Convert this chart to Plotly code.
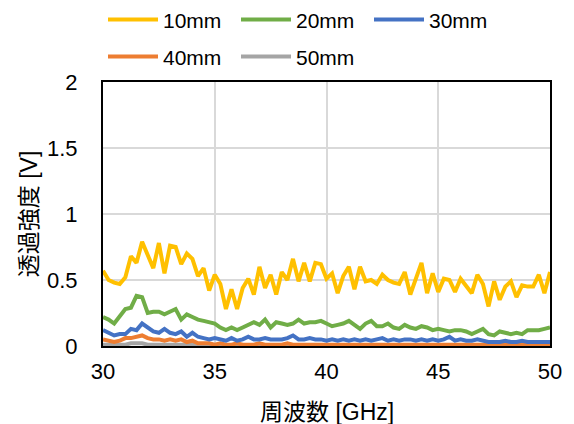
import plotly.graph_objects as go

freq = [30 + 0.25 * i for i in range(81)]

s10mm = [0.57, 0.50, 0.48, 0.47, 0.52, 0.68, 0.63, 0.79, 0.69, 0.59,
         0.78, 0.55, 0.76, 0.75, 0.62, 0.70, 0.66, 0.53, 0.59, 0.42,
         0.54, 0.47, 0.28, 0.43, 0.28, 0.44, 0.51, 0.39, 0.60, 0.44,
         0.54, 0.39, 0.56, 0.50, 0.66, 0.49, 0.63, 0.49, 0.63, 0.62,
         0.51, 0.55, 0.40, 0.53, 0.60, 0.43, 0.60, 0.49, 0.50, 0.47,
         0.54, 0.50, 0.48, 0.47, 0.56, 0.39, 0.51, 0.63, 0.40, 0.55,
         0.41, 0.51, 0.50, 0.41, 0.51, 0.46, 0.40, 0.54, 0.47, 0.30,
         0.49, 0.35, 0.45, 0.49, 0.37, 0.46, 0.45, 0.45, 0.54, 0.40,
         0.56]

s20mm = [0.22, 0.20, 0.17, 0.22, 0.28, 0.29, 0.38, 0.37, 0.25, 0.26,
         0.26, 0.24, 0.26, 0.28, 0.20, 0.24, 0.22, 0.20, 0.19, 0.18,
         0.17, 0.14, 0.12, 0.14, 0.12, 0.14, 0.16, 0.18, 0.16, 0.20,
         0.14, 0.18, 0.17, 0.16, 0.17, 0.20, 0.17, 0.18, 0.18, 0.19,
         0.17, 0.15, 0.16, 0.17, 0.19, 0.16, 0.13, 0.17, 0.19, 0.15,
         0.15, 0.17, 0.14, 0.13, 0.16, 0.14, 0.13, 0.15, 0.14, 0.12,
         0.13, 0.12, 0.11, 0.12, 0.12, 0.11, 0.09, 0.11, 0.13, 0.09,
         0.08, 0.11, 0.10, 0.09, 0.10, 0.09, 0.12, 0.12, 0.12, 0.13,
         0.14]

s30mm = [0.12, 0.10, 0.08, 0.09, 0.09, 0.13, 0.12, 0.17, 0.14, 0.11,
         0.10, 0.13, 0.10, 0.09, 0.11, 0.07, 0.10, 0.07, 0.06, 0.05,
         0.06, 0.05, 0.04, 0.06, 0.04, 0.05, 0.07, 0.05, 0.05, 0.06,
         0.05, 0.05, 0.05, 0.06, 0.08, 0.05, 0.05, 0.06, 0.05, 0.05,
         0.04, 0.05, 0.04, 0.05, 0.04, 0.05, 0.04, 0.05, 0.04, 0.05,
         0.06, 0.04, 0.05, 0.04, 0.05, 0.05, 0.04, 0.05, 0.04, 0.05,
         0.04, 0.05, 0.07, 0.04, 0.05, 0.04, 0.04, 0.05, 0.04, 0.03,
         0.03, 0.03, 0.04, 0.03, 0.03, 0.04, 0.03, 0.03, 0.03, 0.03,
         0.03]

s40mm = [0.05, 0.04, 0.03, 0.04, 0.06, 0.06, 0.07, 0.08, 0.06, 0.05,
         0.05, 0.04, 0.05, 0.04, 0.05, 0.03, 0.04, 0.02, 0.02, 0.02,
         0.01, 0.02, 0.01, 0.01, 0.02, 0.01, 0.01, 0.01, 0.02, 0.01,
         0.01, 0.01, 0.01, 0.02, 0.01, 0.01, 0.01, 0.01, 0.01, 0.01,
         0.01, 0.01, 0.01, 0.01, 0.01, 0.01, 0.01, 0.01, 0.01, 0.01,
         0.01, 0.01, 0.01, 0.01, 0.01, 0.01, 0.01, 0.01, 0.01, 0.01,
         0.01, 0.01, 0.01, 0.01, 0.01, 0.01, 0.01, 0.01, 0.01, 0.01,
         0.01, 0.01, 0.01, 0.01, 0.01, 0.01, 0.01, 0.01, 0.01, 0.01,
         0.01]

s50mm = [0.01, 0.01, 0.01, 0.01, 0.01, 0.02, 0.02, 0.02, 0.01, 0.01,
         0.01, 0.01, 0.01, 0.01, 0.01, 0.01, 0.01, 0.00, 0.00, 0.00,
         0.00, 0.00, 0.00, 0.00, 0.00, 0.00, 0.00, 0.00, 0.00, 0.00,
         0.00, 0.00, 0.00, 0.00, 0.00, 0.00, 0.00, 0.00, 0.00, 0.00,
         0.00, 0.00, 0.00, 0.00, 0.00, 0.00, 0.00, 0.00, 0.00, 0.00,
         0.00, 0.00, 0.00, 0.00, 0.00, 0.00, 0.00, 0.00, 0.00, 0.00,
         0.00, 0.00, 0.00, 0.00, 0.00, 0.00, 0.00, 0.00, 0.00, 0.00,
         0.00, 0.00, 0.00, 0.00, 0.00, 0.00, 0.00, 0.00, 0.00, 0.00,
         0.00]

names = ["10mm", "20mm", "30mm", "40mm", "50mm"]
colors = ["#FFC000", "#70AD47", "#4472C4", "#ED7D31", "#A5A5A5"]
series = [s10mm, s20mm, s30mm, s40mm, s50mm]
legends = ["legend", "legend", "legend", "legend2", "legend2"]

FONT = "Arial, 'Liberation Sans', 'Noto Sans CJK JP', sans-serif"
BLACK = "#000"
CLEAR = "rgba(0,0,0,0)"

fig = go.Figure()
# draw in reverse so 10mm is on top
for name, col, ys, lg in reversed(list(zip(names, colors, series, legends))):
    fig.add_trace(go.Scatter(x=freq, y=ys, mode="lines", name=name,
                             line=dict(color=col, width=4), legend=lg))

legend_common = dict(orientation="h", xanchor="left", yanchor="middle",
                     font=dict(family=FONT, size=21, color=BLACK),
                     entrywidth=68, itemwidth=50, traceorder="reversed",
                     bgcolor=CLEAR)

fig.update_layout(
    width=574, height=424,
    margin=dict(l=103, r=24, t=82, b=78, autoexpand=False),
    paper_bgcolor="white", plot_bgcolor="white",
    font=dict(family=FONT, size=22, color=BLACK),
    showlegend=True,
    legend=dict(x=0.0, y=1.235, **legend_common),
    legend2=dict(x=0.0, y=1.095, **legend_common),
    xaxis=dict(range=[30, 50], dtick=5, tick0=30,
               showgrid=True, gridcolor="#D9D9D9", gridwidth=1.5,
               showline=True, linecolor=BLACK, linewidth=2, mirror=True,
               ticks="outside", ticklen=5, tickcolor=CLEAR, zeroline=False,
               tickfont=dict(family=FONT, size=22, color=BLACK)),
    yaxis=dict(range=[0, 2], dtick=0.5, tick0=0,
               showgrid=True, gridcolor="#D9D9D9", gridwidth=1.5,
               showline=True, linecolor=BLACK, linewidth=2, mirror=True,
               ticks="outside", ticklen=19, tickcolor=CLEAR, zeroline=False,
               tickfont=dict(family=FONT, size=22, color=BLACK)),
    annotations=[
        dict(text="周波数 [GHz]", xref="paper", yref="paper", x=0.5, y=-0.25,
             xanchor="center", yanchor="middle", showarrow=False,
             font=dict(family=FONT, size=23, color=BLACK)),
        dict(text="透過強度 [V]", xref="paper", yref="paper", x=-0.165, y=0.5,
             xanchor="center", yanchor="middle", showarrow=False, textangle=-90,
             font=dict(family=FONT, size=23, color=BLACK)),
    ],
)

fig.write_html("out.html")
